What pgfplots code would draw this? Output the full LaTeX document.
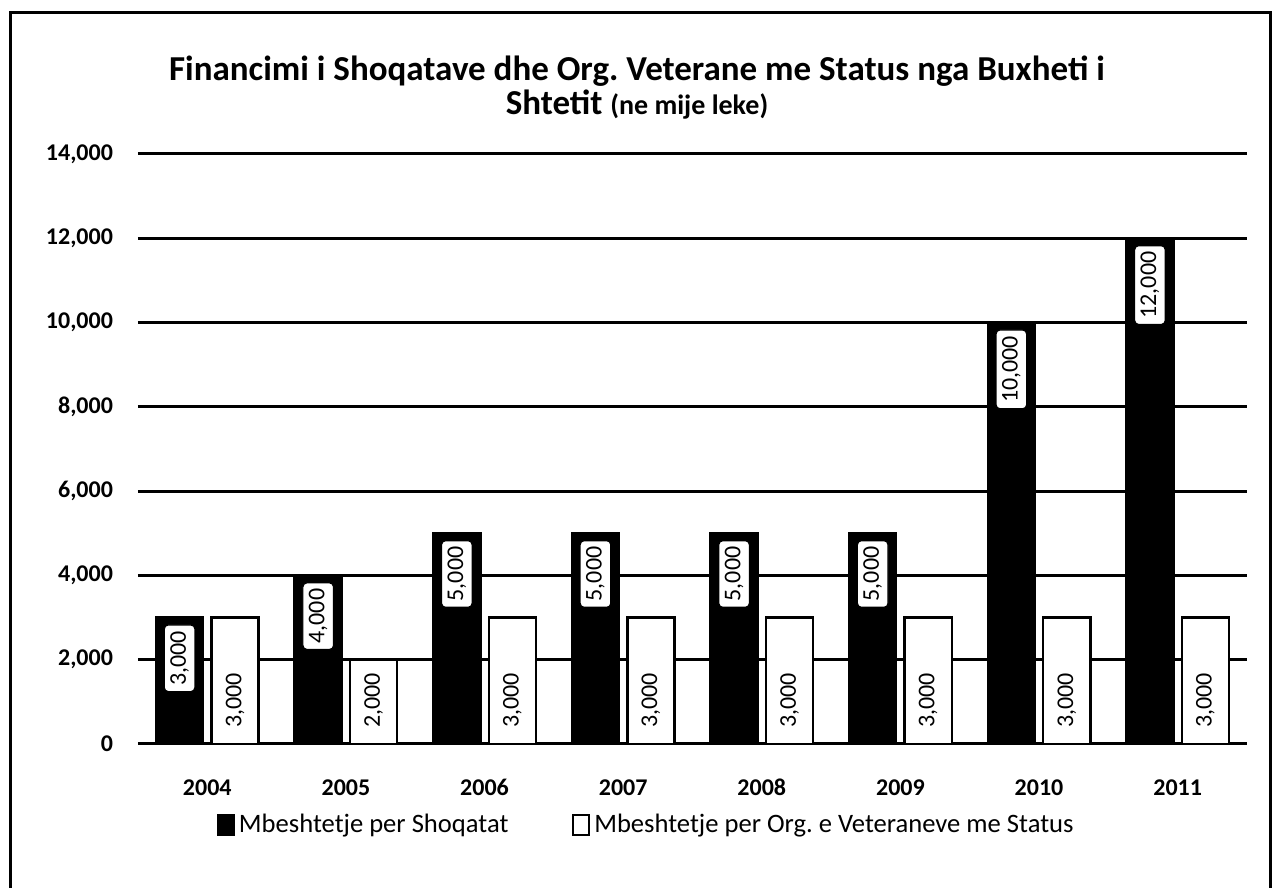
\documentclass[border=0pt]{standalone}
\usepackage{fontspec}
\setmainfont{Carlito}
\usepackage{pgfplots}
\pgfplotsset{compat=1.18}
\begin{document}
\begin{tikzpicture}
\path[use as bounding box] (0,0) rectangle (637pt,444pt);
\draw[line width=1.5pt] (5pt,0) -- (5pt,437.5pt) -- (635pt,437.5pt) -- (635pt,0);
\node[align=center, font=\bfseries\fontsize{17.5}{17}\selectfont] at (318.5pt,400pt)
  {Financimi i Shoqatave dhe Org.\ Veterane me Status nga Buxheti i\\Shtetit {\fontsize{14}{17}\selectfont (ne mije leke)}};
\begin{axis}[
  at={(69pt,72pt)}, anchor=south west,
  scale only axis, width=554.5pt, height=295pt,
  xmin=-0.5, xmax=7.5, ymin=0, ymax=14000,
  xtick={0,1,2,3,4,5,6,7},
  xticklabels={2004,2005,2006,2007,2008,2009,2010,2011},
  ytick={0,2000,4000,6000,8000,10000,12000,14000},
  scaled y ticks=false,
  ymajorgrids, grid style={black, line width=1.5pt},
  axis line style={draw=none},
  major tick length=0pt,
  /pgf/number format/assume math mode=true,
  /pgf/number format/.cd, fixed, 1000 sep={,},
  /pgfplots/.cd,
  tick label style={font=\bfseries\fontsize{12}{14}\selectfont},
  xticklabel style={anchor=base, yshift=-26pt},
  yticklabel style={xshift=-9pt},
  legend columns=2,
  legend style={draw=none, at={(0.459,-0.137)}, anchor=center,
    font=\fontsize{13.3}{15}\selectfont,
    /tikz/every even column/.append style={column sep=30pt}},
]
\addplot[ybar, bar width=0.34, bar shift=-0.2, fill=black, draw=black, line width=1.2pt,
  nodes near coords,
  every node near coord/.append style={font=\fontsize{12}{14}\selectfont,
    shift={(axis direction cs:-0.2,0)}, rotate=90, anchor=east,
    fill=white, draw=black, line width=0.6pt, rounded corners=2pt,
    inner xsep=3pt, inner ysep=3pt, outer xsep=3.7pt},
  legend image code/.code={\draw[fill=black,draw=black] (0pt,-5pt) rectangle (8pt,5pt);}]
  coordinates {(0,3000) (1,4000) (2,5000) (3,5000) (4,5000) (5,5000) (6,10000) (7,12000)};
\addlegendentry{Mbeshtetje per Shoqatat}
\addplot[ybar, bar width=0.34, bar shift=0.2, fill=white, draw=black, line width=1.2pt,
  nodes near coords,
  visualization depends on=y \as \rawy,
  every node near coord/.append style={font=\fontsize{12}{14}\selectfont,
    shift={(axis direction cs:0.2,-\rawy)}, rotate=90, anchor=west,
    inner sep=2pt, outer xsep=6pt},
  legend image code/.code={\draw[fill=white,draw=black,line width=0.9pt] (0pt,-5pt) rectangle (8pt,5pt);}]
  coordinates {(0,3000) (1,2000) (2,3000) (3,3000) (4,3000) (5,3000) (6,3000) (7,3000)};
\addlegendentry{Mbeshtetje per Org.\ e Veteraneve me Status}
\end{axis}
\end{tikzpicture}
\end{document}
